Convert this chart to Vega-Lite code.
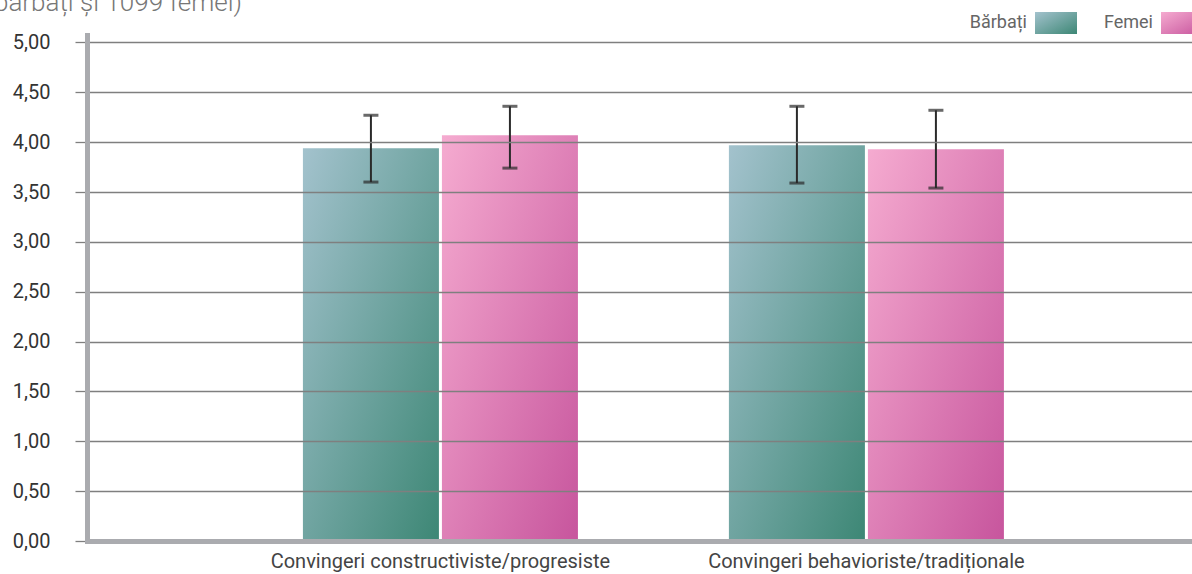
{
  "$schema": "https://vega.github.io/schema/vega-lite/v6.json",
  "autosize": {"type": "none"},
  "padding": {"left": 87, "top": 35, "right": 0, "bottom": 33},
  "width": 1105,
  "height": 506,
  "background": "white",
  "title": {
    "text": "bărbați și 1099 femei)",
    "anchor": "start",
    "frame": "group",
    "dx": -93,
    "dy": 22,
    "offset": 8,
    "font": "Roboto",
    "fontWeight": 300,
    "fontSize": 26,
    "color": "#777777"
  },
  "data": {
    "values": [
      {"categorie": "Convingeri constructiviste/progresiste", "gen": "Bărbați", "medie": 3.94, "min": 3.60, "max": 4.27},
      {"categorie": "Convingeri constructiviste/progresiste", "gen": "Femei", "medie": 4.07, "min": 3.74, "max": 4.36},
      {"categorie": "Convingeri behavioriste/tradiționale", "gen": "Bărbați", "medie": 3.97, "min": 3.59, "max": 4.36},
      {"categorie": "Convingeri behavioriste/tradiționale", "gen": "Femei", "medie": 3.93, "min": 3.54, "max": 4.32}
    ]
  },
  "encoding": {
    "x": {
      "field": "categorie",
      "type": "nominal",
      "sort": null,
      "scale": {"paddingInner": 0, "paddingOuter": 0.297, "align": 0.555},
      "axis": {
        "title": null,
        "labelAngle": 0,
        "ticks": false,
        "labelPadding": 10,
        "labelLimit": 600,
        "labelFont": "Roboto",
        "labelFontSize": 20,
        "labelColor": "#444444",
        "domainColor": "#aaabaf",
        "domainWidth": 5,
        "domainCap": "square",
        "grid": false,
        "zindex": 1
      }
    },
    "xOffset": {
      "field": "gen",
      "type": "nominal",
      "sort": ["Bărbați", "Femei"],
      "scale": {"domain": ["Bărbați", "Femei"], "paddingInner": 0.0216, "paddingOuter": 0.543}
    }
  },
  "layer": [
    {
      "mark": {"type": "bar"},
      "encoding": {
        "y": {
          "field": "medie",
          "type": "quantitative",
          "scale": {"domain": [0, 5.075], "nice": false, "zero": true},
          "axis": {
            "title": null,
            "values": [0, 0.5, 1, 1.5, 2, 2.5, 3, 3.5, 4, 4.5, 5],
            "labelExpr": "replace(format(datum.value, '.2f'), '.', ',')",
            "labelFont": "Roboto",
            "labelFontSize": 20,
            "labelColor": "#333333",
            "labelPadding": 25,
            "tickSize": 12,
            "tickColor": "#7f7f7f",
            "tickWidth": 1.3,
            "grid": true,
            "gridColor": "#7f7f7f",
            "gridWidth": 1.3,
            "domainColor": "#aaabaf",
            "domainWidth": 5,
            "domainCap": "square",
            "zindex": 1
          }
        },
        "color": {
          "field": "gen",
          "type": "nominal",
          "sort": ["Bărbați", "Femei"],
          "scale": {
            "domain": ["Bărbați", "Femei"],
            "range": [
              {"expr": "{gradient: 'linear', x1: 0, y1: 0, x2: 1, y2: 1, stops: [{offset: 0, color: '#a3c2cd'}, {offset: 1, color: '#3d8775'}]}"},
              {"expr": "{gradient: 'linear', x1: 0, y1: 0, x2: 1, y2: 1, stops: [{offset: 0, color: '#f5abd0'}, {offset: 1, color: '#c7559d'}]}"}
            ]
          },
          "legend": {
            "title": null,
            "orient": "none",
            "legendX": 878,
            "legendY": -33,
            "direction": "horizontal",
            "padding": 0,
            "symbolType": "M-1,-0.52H1V0.52H-1Z",
            "symbolSize": 1764,
            "symbolStrokeWidth": 0,
            "symbolOpacity": 1,
            "symbolOffset": 70,
            "labelOffset": -50,
            "labelAlign": "right",
            "labelFont": "Roboto",
            "labelFontSize": 18,
            "labelColor": "#666666",
            "columnPadding": 14
          }
        }
      }
    },
    {
      "mark": {"type": "rule", "color": "#2a2a2a", "strokeWidth": 2},
      "encoding": {
        "y": {"field": "min", "type": "quantitative"},
        "y2": {"field": "max"}
      }
    },
    {
      "mark": {"type": "tick", "color": "#2a2a2a", "size": 15, "thickness": 3},
      "encoding": {
        "y": {"field": "min", "type": "quantitative"}
      }
    },
    {
      "mark": {"type": "tick", "color": "#2a2a2a", "size": 15, "thickness": 3},
      "encoding": {
        "y": {"field": "max", "type": "quantitative"}
      }
    }
  ],
  "config": {
    "view": {"stroke": null},
    "font": "Roboto"
  }
}
